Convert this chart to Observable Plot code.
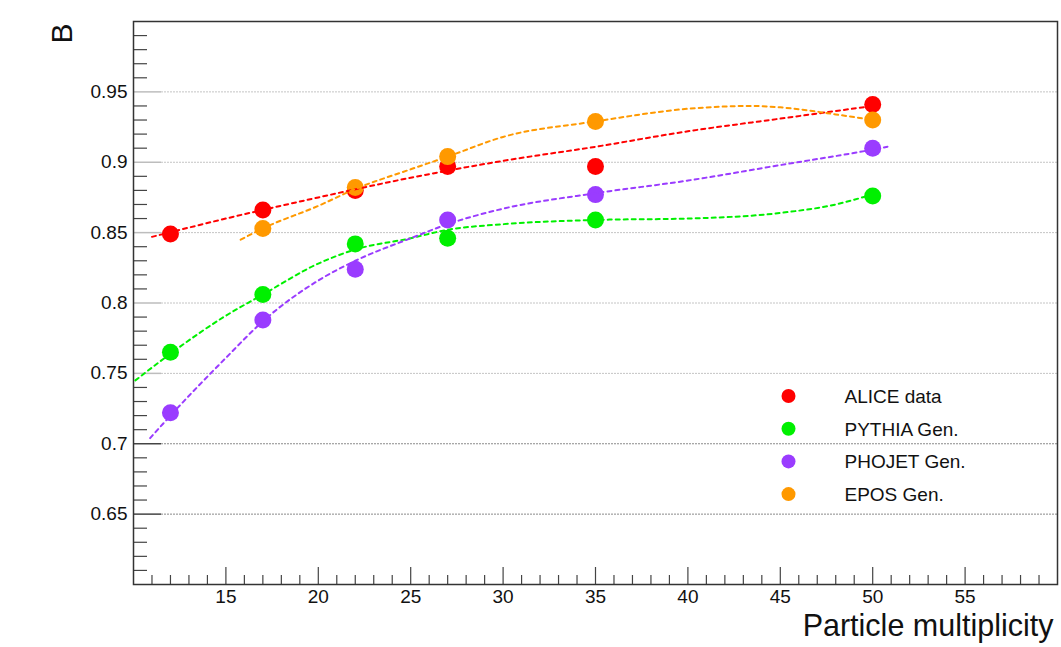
<!DOCTYPE html>
<html><head><meta charset="utf-8">
<script src="https://cdn.jsdelivr.net/npm/d3@7"></script>
<script src="https://cdn.jsdelivr.net/npm/@observablehq/plot@0.6"></script>
<style>
body{margin:0;background:#fff;}
#wrap{width:1061px;height:647px;}
</style></head><body><div id="wrap"></div>
<script>
// ---- data ----
const seriesNames = ["ALICE data", "PYTHIA Gen.", "PHOJET Gen.", "EPOS Gen."];
const seriesColors = ["#ff0000", "#00f000", "#9a3cff", "#ff9900"];

const multiplicity = [12, 17, 22, 27, 35, 50];
const aliceB  = [0.849, 0.866, 0.880, 0.897, 0.897, 0.941];
const pythiaB = [0.765, 0.806, 0.842, 0.846, 0.859, 0.876];
const phojetB = [0.722, 0.788, 0.824, 0.859, 0.877, 0.910];
const eposX   = [17, 22, 27, 35, 50];
const eposB   = [0.853, 0.882, 0.904, 0.929, 0.930];

// dashed fit curves
const aliceFitX  = [11, 15, 20, 25, 30, 35, 40, 45, 50];
const aliceFitB  = [0.847, 0.860, 0.875, 0.889, 0.901, 0.911, 0.922, 0.931, 0.940];
const pythiaFitX = [10.1, 12, 15, 17, 20, 22, 25, 27, 30, 35, 40, 45, 48, 49.7];
const pythiaFitB = [0.745, 0.764, 0.791, 0.806, 0.828, 0.838, 0.846, 0.852, 0.856, 0.859, 0.860, 0.864, 0.870, 0.876];
const phojetFitX = [10.9, 12, 15, 17, 20, 22, 25, 27, 30, 35, 40, 45, 50, 50.8];
const phojetFitB = [0.704, 0.720, 0.761, 0.787, 0.816, 0.830, 0.846, 0.856, 0.867, 0.878, 0.887, 0.898, 0.909, 0.911];
const eposFitX   = [15.8, 17, 20, 22, 25, 27, 30, 35, 40, 43.5, 45, 48, 50];
const eposFitB   = [0.845, 0.853, 0.869, 0.881, 0.895, 0.904, 0.918, 0.929, 0.938, 0.940, 0.939, 0.934, 0.930];

// axis ticks
const xMajor = [15, 20, 25, 30, 35, 40, 45, 50, 55];
const xMinor = d3.range(11, 60).filter(v => v % 5 !== 0);
const yMajorLight = [0.75, 0.8, 0.85, 0.9, 0.95];
const yMajorDark  = [0.65, 0.7];
const yMajor = [...yMajorDark, ...yMajorLight];
const yMinor = d3.range(61, 100).filter(v => v % 5 !== 0).map(v => v / 100);
const xTitle = "Particle multiplicity";
const yTitle = "B";

// ---- build tables ----
const pointSets = [
  {s: 0, x: multiplicity, y: aliceB},
  {s: 2, x: multiplicity, y: phojetB},
  {s: 1, x: multiplicity, y: pythiaB},
  {s: 3, x: eposX, y: eposB}
];
const points = pointSets.flatMap(p => p.x.map((x, i) => ({x, y: p.y[i], series: seriesNames[p.s]})));
const fitSets = [
  {s: 0, x: aliceFitX, y: aliceFitB},
  {s: 1, x: pythiaFitX, y: pythiaFitB},
  {s: 2, x: phojetFitX, y: phojetFitB},
  {s: 3, x: eposFitX, y: eposFitB}
];
const fits = fitSets.flatMap(p => p.x.map((x, i) => ({x, y: p.y[i], series: seriesNames[p.s]})));

const W = 1061, H = 647, mL = 133, mR = 4, mT = 21, mB = 63;
const iW = W - mL - mR, iH = H - mT - mB;
const fmt = d => String(+d.toFixed(2));

const legendMarks = seriesNames.flatMap((n, i) => [
  Plot.dot([n], {frameAnchor: "top-left", dx: 655, dy: 374.5 + 32.7 * i, r: 7, fill: seriesColors[i]}),
  Plot.text([n], {frameAnchor: "top-left", lineAnchor: "middle", dx: 711, dy: 375.5 + 32.7 * i, textAnchor: "start", fontSize: 19, fill: "#111"})
]);

const chart = Plot.plot({
  width: W, height: H,
  marginLeft: mL, marginRight: mR, marginTop: mT, marginBottom: mB,
  style: {fontFamily: "'Liberation Sans', Arial, sans-serif", fontSize: "19px", color: "#111", background: "#fff"},
  x: {domain: [10, 60]},
  y: {domain: [0.6, 1.0]},
  color: {domain: seriesNames, range: seriesColors},
  marks: [
    Plot.ruleY(yMajorLight, {stroke: "#c4c4c4", strokeDasharray: "2,1", insetLeft: 28}),
    Plot.ruleY(yMajorDark, {stroke: "#8a8a8a", strokeDasharray: "2,1", insetLeft: 28}),
    Plot.ruleY(yMinor, {stroke: "#444", strokeWidth: 1.2, insetRight: iW - 14}),
    Plot.ruleY(yMajorLight, {stroke: "#bdbdbd", strokeWidth: 1.5, insetRight: iW - 28}),
    Plot.ruleY(yMajorDark, {stroke: "#444", strokeWidth: 1.5, insetRight: iW - 28}),
    Plot.ruleX(xMinor, {stroke: "#444", strokeWidth: 1.2, insetTop: iH - 9}),
    Plot.ruleX(xMajor, {stroke: "#444", strokeWidth: 1.2, insetTop: iH - 17}),
    Plot.axisY({ticks: yMajor, tickSize: 0, tickPadding: 6, tickFormat: fmt, fontSize: 19, label: null}),
    Plot.axisX({ticks: xMajor, tickSize: 0, tickPadding: 5, tickFormat: fmt, fontSize: 19, label: null}),
    Plot.frame({stroke: "#333", strokeWidth: 1.5}),
    Plot.dot(points, {x: "x", y: "y", fill: "series", r: 8.5}),
    Plot.line(fits, {x: "x", y: "y", z: "series", stroke: "series", strokeWidth: 2, strokeDasharray: "4,4", curve: "monotone-x"}),
    Plot.text([yTitle], {frameAnchor: "top-left", lineAnchor: "middle", dx: -71.6, dy: 2, rotate: -90, textAnchor: "end", fontSize: 30, fill: "#111"}),
    Plot.text([xTitle], {frameAnchor: "bottom-right", lineAnchor: "middle", dx: -4, dy: 42, textAnchor: "end", fontSize: 30.5, fill: "#111"}),
    ...legendMarks
  ]
});
document.getElementById("wrap").appendChild(chart);
</script></body></html>
